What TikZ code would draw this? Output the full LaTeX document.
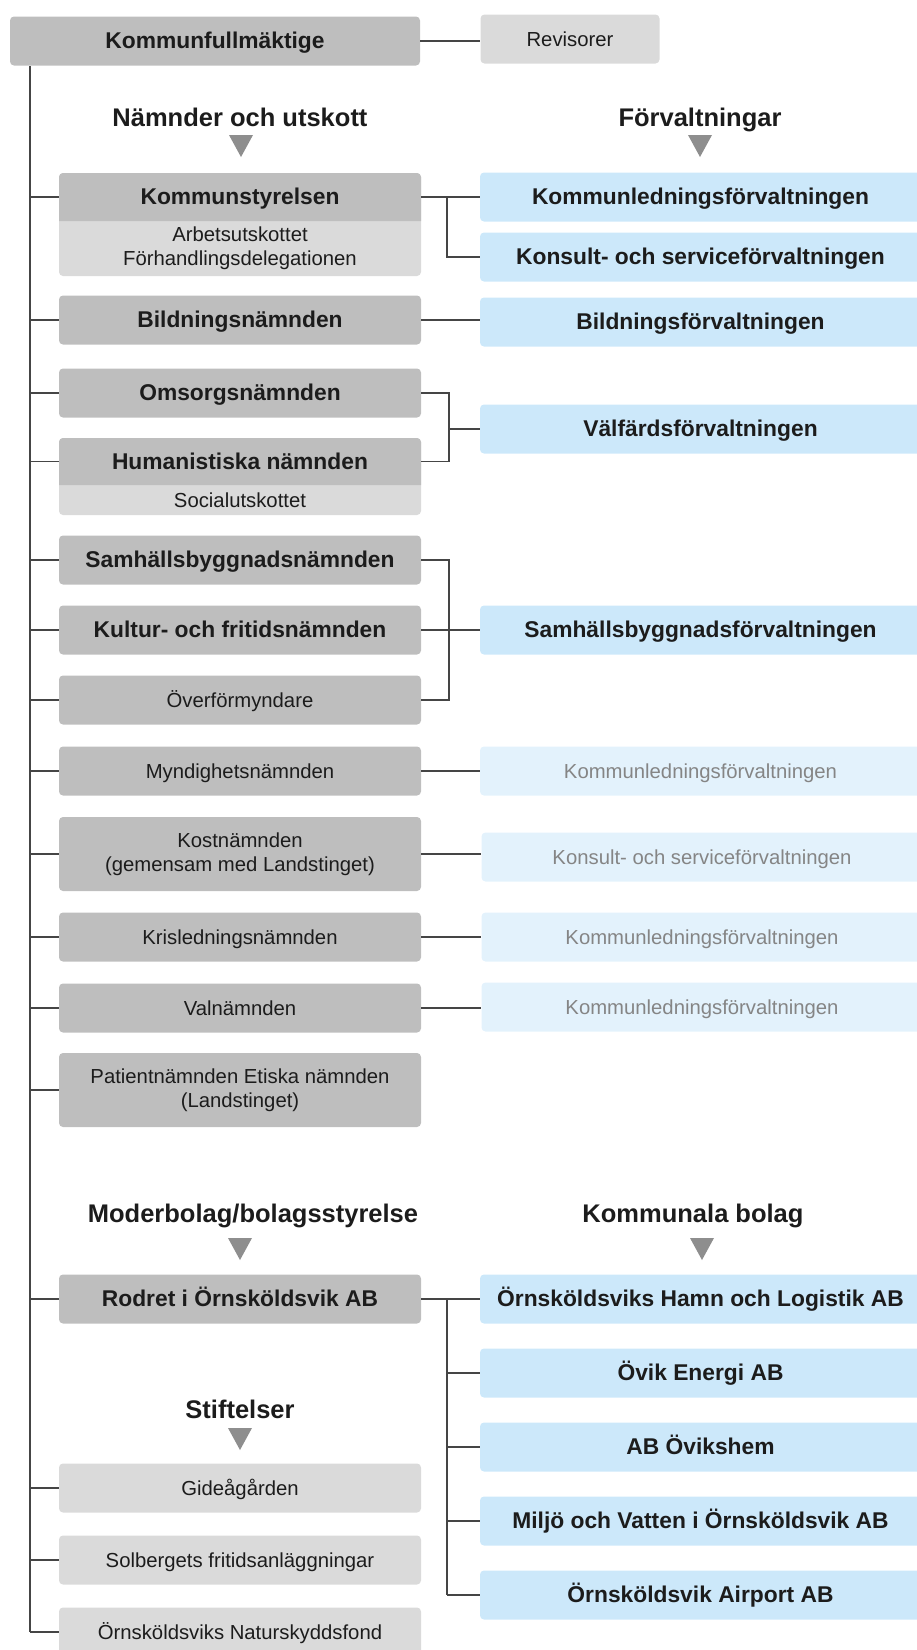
\documentclass[tikz,border=0pt]{standalone}
\usepackage{fontspec}
\setmainfont{Liberation Sans}
\definecolor{nmgray}{HTML}{BEBEBE}
\definecolor{nmlight}{HTML}{DADADA}
\definecolor{fvblue}{HTML}{CCE8FA}
\definecolor{fvpale}{HTML}{E3F2FC}
\definecolor{fvtext}{HTML}{858585}
\definecolor{pilgray}{HTML}{8E8E8E}
\definecolor{linegray}{HTML}{454545}
\definecolor{textblack}{HTML}{1C1C1C}
\usetikzlibrary{positioning, calc}

\newcommand{\rubrik}{\fontsize{25.5}{28}\selectfont\bfseries}
\newcommand{\fet}{\fontsize{22.8}{26}\selectfont\bfseries}
\newcommand{\vanlig}{\fontsize{20.3}{24}\selectfont}

\tikzset{
  box/.style={rounded corners=4pt, inner sep=0pt, align=center, text=textblack, minimum height=49pt},
  enrad/.style={text height=#1, text depth=0pt},
  namnd/.style={box, enrad=15pt, fill=nmgray, minimum width=362pt, font=\fet},
  namndtunn/.style={box, enrad=14.5pt, fill=nmgray, minimum width=362pt, font=\vanlig},
  namndflera/.style={box, fill=nmgray, minimum width=362pt, minimum height=74pt, font=\vanlig},
  stift/.style={box, enrad=14.5pt, fill=nmlight, minimum width=362pt, font=\vanlig},
  forv/.style={box, enrad=15pt, fill=fvblue, minimum width=441pt, font=\fet},
  forvsvag/.style={box, enrad=14.5pt, fill=fvpale, minimum width=441pt, font=\vanlig, text=fvtext},
  rubriktext/.style={enrad=18.3pt, font=\rubrik, text=textblack, inner sep=0pt},
  textbit/.style={inner sep=0pt, align=center, minimum width=362pt, text=textblack},
  linje/.style={draw=linegray, line width=1.5pt},
}

\begin{document}
\begin{tikzpicture}[x=1pt, y=-1pt]
  \useasboundingbox (0,0) rectangle (917,1650);
  \clip (0,0) rectangle (917,1650);

  \node[namnd, minimum width=410pt] (kfm) at (215,41) {Kommunfullmäktige};
  \node[stift, minimum width=179pt] (rev) at (570,39) {Revisorer};

  \node[rubriktext] (hnamnd) at (240,117) {Nämnder och utskott};
  \node[rubriktext] (hforv) at (700,117) {Förvaltningar};

  \fill[nmlight, rounded corners=4pt] (59,173) rectangle (421,276);
  \fill[nmgray] (59,221) [rounded corners=4pt] -- (59,173) -- (421,173) -- (421,200) [sharp corners] -- (421,221) -- cycle;
  \node[textbit, enrad=15pt, font=\fet, minimum height=48pt] (ks) at (240,197) {Kommunstyrelsen};
  \node[textbit, font=\vanlig] (ksu) at (240,248) {Arbetsutskottet\\Förhandlingsdelegationen};

  \node[namnd] (bn) at (240,320) {Bildningsnämnden};
  \node[namnd] (on) at (240,393) {Omsorgsnämnden};

  \fill[nmlight, rounded corners=4pt] (59,438) rectangle (421,515);
  \fill[nmgray] (59,485) [rounded corners=4pt] -- (59,438) -- (421,438) -- (421,460) [sharp corners] -- (421,485) -- cycle;
  \node[textbit, enrad=15pt, font=\fet, minimum height=47pt] (hn) at (240,461.5) {Humanistiska nämnden};
  \node[textbit, enrad=14.5pt, font=\vanlig] (hnu) at (240,500) {Socialutskottet};

  \node[namnd] (sbn) at (240,560) {Samhällsbyggnadsnämnden};
  \node[namnd] (kfn) at (240,630) {Kultur- och fritidsnämnden};
  \node[namndtunn] (ofm) at (240,700) {Överförmyndare};
  \node[namndtunn] (myn) at (240,771) {Myndighetsnämnden};
  \node[namndflera] (kon) at (240,854) {Kostnämnden\\(gemensam med Landstinget)};
  \node[namndtunn] (krn) at (240,937) {Krisledningsnämnden};
  \node[namndtunn] (vln) at (240,1008) {Valnämnden};
  \node[namndflera] (pan) at (240,1090) {Patientnämnden Etiska nämnden\\(Landstinget)};

  \node[forv] (klf) at (700.5,197) {Kommunledningsförvaltningen};
  \node[forv] (ksf) at (700.5,257) {Konsult- och serviceförvaltningen};
  \node[forv] (bif) at (700.5,322) {Bildningsförvaltningen};
  \node[forv] (vaf) at (700.5,429) {Välfärdsförvaltningen};
  \node[forv] (sbf) at (700.5,630) {Samhällsbyggnadsförvaltningen};
  \node[forvsvag] (klf2) at (700.5,771) {Kommunledningsförvaltningen};
  \node[forvsvag] (ksf2) at (702,857) {Konsult- och serviceförvaltningen};
  \node[forvsvag] (klf3) at (702,937) {Kommunledningsförvaltningen};
  \node[forvsvag] (klf4) at (702,1007) {Kommunledningsförvaltningen};

  \node[rubriktext] (hmoder) at (253,1213) {Moderbolag/bolagsstyrelse};
  \node[rubriktext] (hbolag) at (693,1213) {Kommunala bolag};
  \node[namnd] (rod) at (240,1299) {Rodret i Örnsköldsvik AB};
  \node[forv] (hamn) at (700.5,1299) {Örnsköldsviks Hamn och Logistik AB};
  \node[forv] (energi) at (700.5,1373) {Övik Energi AB};
  \node[forv] (hem) at (700.5,1447) {AB Övikshem};
  \node[forv] (mva) at (700.5,1521) {Miljö och Vatten i Örnsköldsvik AB};
  \node[forv] (air) at (700.5,1595) {Örnsköldsvik Airport AB};

  \node[rubriktext] (hstift) at (240,1409) {Stiftelser};
  \node[stift] (gid) at (240,1488) {Gideågården};
  \node[stift] (sol) at (240,1560) {Solbergets fritidsanläggningar};
  \node[stift] (nat) at (240,1632) {Örnsköldsviks Naturskyddsfond};

  \foreach \px/\py in {241/146, 700/146, 240/1249, 702/1249, 240/1439}
    \fill[pilgray] (\px-12,\py-11) -- (\px+12,\py-11) -- (\px,\py+11) -- cycle;

  \coordinate (rygg) at (30,66);
  \draw[linje] (rygg) -- (rygg |- nat.west);
  \foreach \n in {ks,bn,on,hn,sbn,kfn,ofm,myn,kon,krn,vln,pan,rod,gid,sol,nat}
    \draw[linje] (rygg |- \n.west) -- (\n.west);
  \draw[linje] (kfm.east) -- (kfm.east -| rev.west);

  \coordinate (gren1) at (447,197);
  \coordinate (gren2) at (449,0);
  \draw[linje] (ks.east) -- (klf.west);
  \draw[linje] (gren1) |- (ksf.west);
  \draw[linje] (bn.east) -- (bn.east -| bif.west);
  \draw[linje] (on.east) -- (on.east -| gren2) -- (hn.east -| gren2) -- (hn.east);
  \draw[linje] (vaf.west -| gren2) -- (vaf.west);
  \draw[linje] (sbn.east) -- (sbn.east -| gren2) -- (ofm.east -| gren2) -- (ofm.east);
  \draw[linje] (kfn.east) -- (sbf.west);
  \foreach \a/\b in {myn/klf2, kon/ksf2, krn/klf3, vln/klf4}
    \draw[linje] (\a.east) -- (\a.east -| \b.west);

  \draw[linje] (rod.east) -- (hamn.west);
  \draw[linje] (gren1 |- rod.east) -- (gren1 |- air.west);
  \foreach \b in {energi,hem,mva,air}
    \draw[linje] (gren1 |- \b.west) -- (\b.west);
\end{tikzpicture}
\end{document}
